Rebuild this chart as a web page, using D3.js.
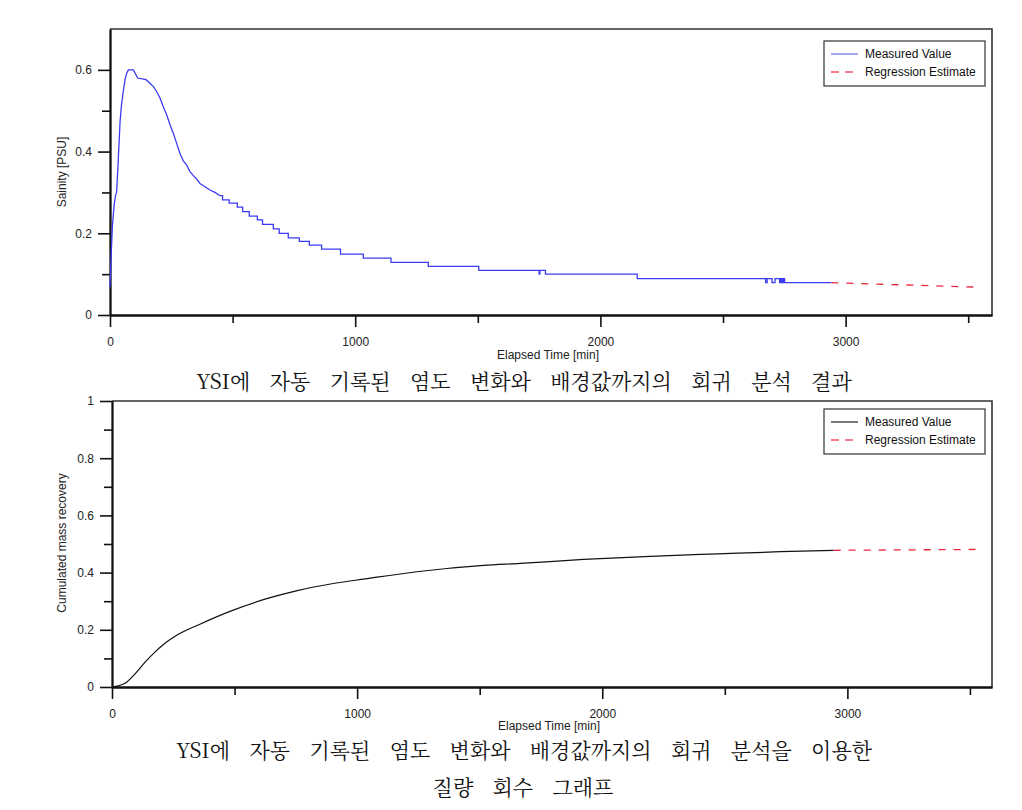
<!DOCTYPE html>
<html><head><meta charset="utf-8">
<script src="https://cdn.jsdelivr.net/npm/d3@7"></script>
<style>
body{margin:0;background:#fff}
svg{display:block}
text{font-family:"Liberation Sans",Arial,sans-serif}
</style>
</head><body><svg id="c" width="1022" height="810"></svg>
<script>
// ---------- data ----------
const salTime = [0,5,10,17,23,27,33,41,47,54,61,68,75,95,113,147,163,177,190,204,217,231,245,258,272,285,299,313,326,340,353,367,387,408,428,448,459,486,519,541,568,601,622,666,690,727,772,813,863,940,1033,1146,1298,1504,1750,1753,1776,2150,2674,2680,2700,2712,2731,2736,2741,2746,2751,2942];
const salValue = [0.069,0.15,0.22,0.27,0.294,0.30,0.37,0.473,0.515,0.547,0.575,0.592,0.60,0.600,0.580,0.576,0.567,0.559,0.547,0.531,0.510,0.490,0.465,0.445,0.420,0.396,0.377,0.367,0.351,0.341,0.333,0.322,0.314,0.306,0.300,0.292,0.282,0.274,0.264,0.253,0.242,0.233,0.222,0.211,0.200,0.189,0.180,0.171,0.161,0.149,0.139,0.129,0.119,0.109,0.100,0.109,0.100,0.089,0.079,0.089,0.079,0.089,0.079,0.089,0.079,0.089,0.079,0.079];
const salRegTime = [2942, 3547];
const salRegValue = [0.079, 0.068];

const recTime = [0,25,53,94,135,176,216,264,352,489,624,760,897,1033,1244,1516,1665,1924,2196,2400,2522,2727,2944];
const recValue = [0,0.004,0.013,0.046,0.087,0.123,0.153,0.181,0.217,0.267,0.307,0.338,0.361,0.378,0.403,0.425,0.432,0.446,0.457,0.464,0.467,0.473,0.478];
const recRegTime = [2944, 3545];
const recRegValue = [0.478, 0.481];

const xMajorTicks = [0,1000,2000,3000];
const xMinorTicks = [500,1500,2500,3500];
const salMajorTicks = [0,0.2,0.4,0.6];
const salTickLabels = ["0","0.2","0.4","0.6"];
const salMinorTicks = [0.1,0.3,0.5];
const recMajorTicks = [0,0.2,0.4,0.6,0.8,1];
const recTickLabels = ["0","0.2","0.4","0.6","0.8","1"];
const recMinorTicks = [0.1,0.3,0.5,0.7,0.9];
const legendLabels = ["Measured Value","Regression Estimate"];
const xTitle = "Elapsed Time [min]";
const salTitle = "Sainity [PSU]";
const recTitle = "Cumulated mass recovery";
const caption1 = "YSI에 자동 기록된 염도 변화와 배경값까지의 회귀 분석 결과";
const caption2a = "YSI에 자동 기록된 염도 변화와 배경값까지의 회귀 분석을 이용한";
const caption2b = "질량 회수 그래프";

// ---------- drawing ----------
const svg = d3.select("#c");
svg.append("rect").attr("width",1022).attr("height",810).attr("fill","#fff");

function panel(opt){
  const g = svg.append("g");
  const x = opt.x, y = opt.y;
  const [x0,x1] = x.range(); const [yb,yt] = y.range();
  g.append("path").attr("d",`M${x0},${yt}H${x1}V${yb}`).attr("fill","none").attr("stroke","#333").attr("stroke-width",1.6);
  const gxm = g.append("g").attr("transform",`translate(0,${yb})`)
    .call(d3.axisBottom(x).tickValues(xMinorTicks).tickSize(8).tickFormat("").tickSizeOuter(0));
  const gx = g.append("g").attr("transform",`translate(0,${yb})`)
    .call(d3.axisBottom(x).tickValues(xMajorTicks).tickSize(12).tickPadding(10).tickFormat(d3.format("d")).tickSizeOuter(0));
  const gym = g.append("g").attr("transform",`translate(${x0},0)`)
    .call(d3.axisLeft(y).tickValues(opt.yMinor).tickSize(8).tickFormat("").tickSizeOuter(0));
  const gy = g.append("g").attr("transform",`translate(${x0},0)`)
    .call(d3.axisLeft(y).tickValues(opt.yMajor).tickSize(12).tickPadding(6).tickFormat((d,i)=>opt.yLabels[i]).tickSizeOuter(0));
  [gxm,gx,gym,gy].forEach(a=>{
    a.selectAll("path.domain").attr("stroke","#111").attr("stroke-width",1.8);
    a.selectAll(".tick line").attr("stroke","#111").attr("stroke-width",1.6);
    a.selectAll(".tick text").attr("fill","#222").style("font-size","12px").style("font-family","'Liberation Sans',Arial,sans-serif");
  });
  g.append("text").attr("x",opt.xTitleX).attr("y",opt.xTitleY).attr("text-anchor","middle")
    .attr("dominant-baseline","central").style("font-size","12px").attr("fill","#222").text(xTitle);
  g.append("text").attr("transform",`translate(62,${opt.yTitleY}) rotate(-90)`).attr("text-anchor","middle")
    .attr("dominant-baseline","central").style("font-size","12px").attr("fill","#222").text(opt.yTitle);
  const meas = opt.mt.map((t,i)=>[t,opt.mv[i]]);
  const reg = opt.rt.map((t,i)=>[t,opt.rv[i]]);
  const lineL = d3.line().x(d=>x(d[0])).y(d=>y(d[1]));
  if (opt.split != null) {
    // smooth sampled part then stepped logger readings
    const a = meas.filter(d=>d[0]<=opt.split), b = meas.filter(d=>d[0]>=opt.split);
    g.append("path").datum(a).attr("fill","none").attr("stroke",opt.color).attr("stroke-width",1.3)
      .attr("d",lineL.curve(d3.curveLinear));
    g.append("path").datum(b).attr("fill","none").attr("stroke",opt.color).attr("stroke-width",1.3)
      .attr("d",d3.line().x(d=>x(d[0])).y(d=>y(d[1])).curve(d3.curveStepAfter));
  } else {
    g.append("path").datum(meas).attr("fill","none").attr("stroke",opt.color).attr("stroke-width",1.2)
      .attr("d",lineL.curve(opt.curve));
  }
  g.append("path").datum(reg).attr("fill","none").attr("stroke","#e8283c").attr("stroke-width",1.3)
    .attr("stroke-dasharray","7,8")
    .attr("d",d3.line().x(d=>x(d[0])).y(d=>y(d[1])));
  const L = opt.legend;
  g.append("rect").attr("x",L.x).attr("y",L.y).attr("width",161).attr("height",45)
    .attr("fill","#fff").attr("stroke","#333").attr("stroke-width",1.2);
  const rows = [L.y+13, L.y+31];
  g.append("line").attr("x1",L.x+7).attr("x2",L.x+34).attr("y1",rows[0]).attr("y2",rows[0])
    .attr("stroke",opt.legendColor).attr("stroke-width",1.2);
  g.append("line").attr("x1",L.x+7).attr("x2",L.x+34).attr("y1",rows[1]).attr("y2",rows[1])
    .attr("stroke","#ee5566").attr("stroke-width",1.3).attr("stroke-dasharray","8,6");
  legendLabels.forEach((s,i)=>{
    g.append("text").attr("x",L.x+41).attr("y",rows[i]).attr("dominant-baseline","central")
      .style("font-size","12px").attr("fill","#111").text(s);
  });
}

const xTop = d3.scaleLinear().domain([0,3597]).range([110,992]);
const yTop = d3.scaleLinear().domain([0,0.7]).range([315,29]);
panel({x:xTop,y:yTop,yMajor:salMajorTicks,yLabels:salTickLabels,yMinor:salMinorTicks,
  xTitleX:548,xTitleY:355,yTitle:salTitle,yTitleY:172,
  mt:salTime,mv:salValue,rt:salRegTime,rv:salRegValue,color:"#3b3bf2",legendColor:"#6c6ce8",
  split:448,legend:{x:824,y:41}});

const xBot = d3.scaleLinear().domain([0,3590]).range([112,992]);
const yBot = d3.scaleLinear().domain([0,1]).range([687,401]);
panel({x:xBot,y:yBot,yMajor:recMajorTicks,yLabels:recTickLabels,yMinor:recMinorTicks,
  xTitleX:549,xTitleY:726,yTitle:recTitle,yTitleY:543,
  mt:recTime,mv:recValue,rt:recRegTime,rv:recRegValue,color:"#111",legendColor:"#222",
  curve:d3.curveMonotoneX,legend:{x:824,y:409}});

const capFont = "'Noto Serif CJK KR','Noto Sans CJK KR',serif";
[[caption1,524,380],[caption2a,524,749],[caption2b,523,786]].forEach(([s,cx,cy])=>{
  svg.append("text").attr("x",cx).attr("y",cy).attr("text-anchor","middle").attr("dominant-baseline","central")
    .style("font-family",capFont).style("font-size","21px").style("word-spacing","14px").attr("fill","#111").text(s);
});
</script></body></html>
